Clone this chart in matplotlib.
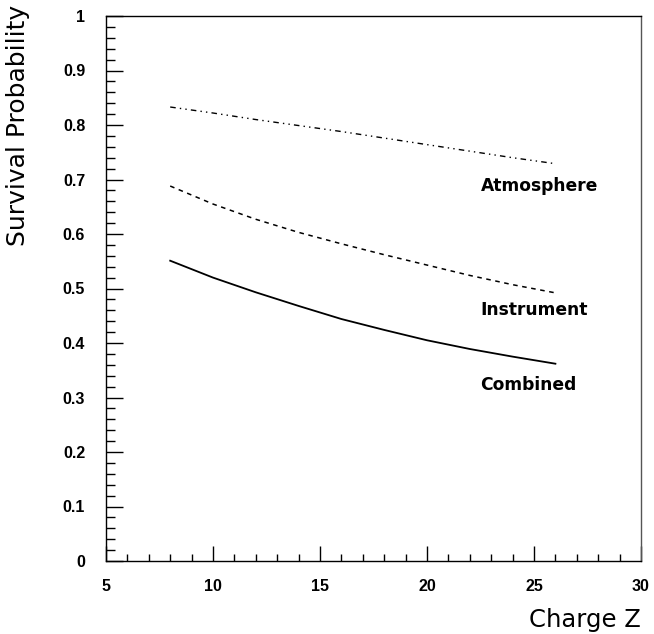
import matplotlib
matplotlib.use("Agg")
import matplotlib.pyplot as plt
from matplotlib.ticker import MultipleLocator

# Data
charge_z = [8, 10, 12, 14, 16, 18, 20, 22, 24, 26]
atmosphere = [0.833, 0.822, 0.810, 0.799, 0.788, 0.776, 0.764, 0.752, 0.740, 0.729]
instrument = [0.688, 0.655, 0.627, 0.603, 0.582, 0.562, 0.543, 0.524, 0.507, 0.492]
combined = [0.551, 0.520, 0.493, 0.468, 0.444, 0.424, 0.405, 0.389, 0.375, 0.362]

x_ticks = [5, 10, 15, 20, 25, 30]
x_tick_labels = ["5", "10", "15", "20", "25", "30"]
y_ticks = [0, 0.1, 0.2, 0.3, 0.4, 0.5, 0.6, 0.7, 0.8, 0.9, 1.0]
y_tick_labels = ["0", "0.1", "0.2", "0.3", "0.4", "0.5", "0.6", "0.7", "0.8", "0.9", "1"]

series_labels = ["Atmosphere", "Instrument", "Combined"]
label_positions = [(22.5, 0.688), (22.5, 0.461), (22.5, 0.323)]

fig = plt.figure(figsize=(6.54, 6.34), dpi=100)
ax = fig.add_axes([106/654, 73/634, 535/654, 545/634])

ax.plot(charge_z, atmosphere, color="black", lw=1.0,
        linestyle=(0, (4, 3, 1, 3, 1, 3)))
ax.plot(charge_z, instrument, color="black", lw=1.1, linestyle=(0, (3, 3)))
ax.plot(charge_z, combined, color="black", lw=1.3, linestyle="-")

for lab, (lx, ly) in zip(series_labels, label_positions):
    ax.text(lx, ly, lab, fontsize=12.3, fontweight="bold", family="DejaVu Sans",
            ha="left", va="center")

ax.set_xlim(5, 30)
ax.set_ylim(0, 1)
ax.set_xticks(x_ticks)
ax.set_xticklabels(x_tick_labels)
ax.set_yticks(y_ticks)
ax.set_yticklabels(y_tick_labels)
ax.xaxis.set_minor_locator(MultipleLocator(1))
ax.yaxis.set_minor_locator(MultipleLocator(0.02))

ax.tick_params(axis="x", which="major", direction="in", length=11, width=1,
               pad=13, top=False, labelsize=11.5)
ax.tick_params(axis="x", which="minor", direction="in", length=5, width=1, top=False)
ax.tick_params(axis="y", which="major", direction="in", length=12, width=1,
               pad=15, right=False, labelsize=11.5)
ax.tick_params(axis="y", which="minor", direction="in", length=6.5, width=1, right=False)
for lab in ax.get_xticklabels() + ax.get_yticklabels():
    lab.set_fontweight("bold")
    lab.set_family("Liberation Sans")

for side in ["left", "bottom", "top"]:
    ax.spines[side].set_linewidth(1.0)
    ax.spines[side].set_color("black")
ax.spines["right"].set_linewidth(1.0)
ax.spines["right"].set_color("#555555")

fig.text(641/654, 1 - 620/634, "Charge Z", fontsize=17.5, ha="right", va="center",
         family="DejaVu Sans")
fig.text(18/654, 1 - 5/634, "Survival Probability", fontsize=18, rotation=90,
         ha="center", va="top", family="DejaVu Sans")

fig.savefig("out.png", dpi=100)
